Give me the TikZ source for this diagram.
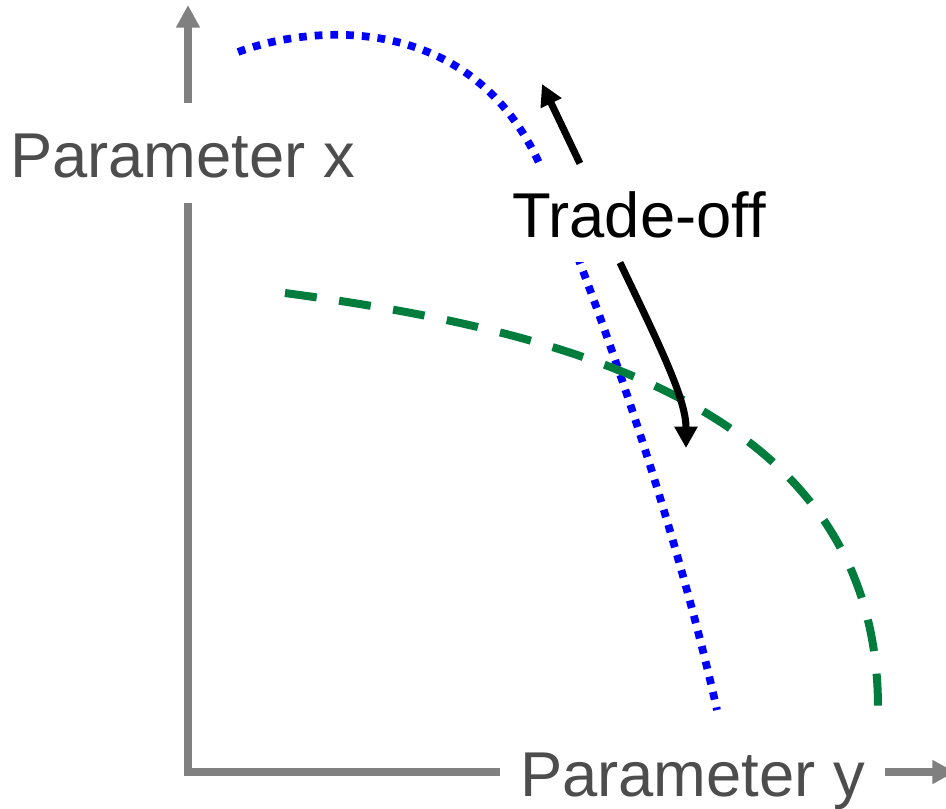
\documentclass[tikz,border=0pt]{standalone}
\usepackage{fontspec}
\setmainfont{Liberation Sans}
\usetikzlibrary{arrows.meta,positioning,calc}
\definecolor{axisgray}{RGB}{128,128,128}
\definecolor{labelgray}{RGB}{77,77,77}
\definecolor{frontblue}{RGB}{0,0,255}
\definecolor{frontgreen}{RGB}{0,125,60}

\begin{document}
\begin{tikzpicture}[x=0.75pt,y=0.75pt,yscale=-1,xscale=1,
  axisline/.style={color=axisgray,line width=6.5pt},
  axisarrow/.style={axisline,-{Triangle[length=17pt,width=17pt]}},
  paramlabel/.style={fill=white,inner xsep=15pt,inner ysep=15pt,text height=40pt,text depth=4pt,anchor=base,font=\fontsize{47.5}{57}\selectfont},
  bluefront/.style={color=frontblue,line width=5.8pt,dash pattern=on 5.8pt off 6pt},
  greenfront/.style={color=frontgreen,line width=6pt,dash pattern=on 24pt off 17pt},
  tradearrow/.style={black,line width=5.3pt,-{Triangle[length=16pt,width=16.5pt]}}]
  \useasboundingbox (0,0) rectangle (946,808);

  %Curves
  \draw [bluefront] (238,52) .. controls (310,25) and (470,10) .. (540,165) .. controls (582,258) and (670,500) .. (717,710) ;
  \draw [greenfront] (285,293) .. controls (560,330) and (878,405) .. (878,708) ;

  % Text Node
  \node [paramlabel,text=labelgray] (xlab) at (182.5,177) {Parameter x};
  % Text Node
  \node [paramlabel,text=labelgray] (ylab) at (692.5,796) {Parameter y};
  % Text Node
  \node [paramlabel,text=black] (trade) at (639,237) {Trade-off};

  %Axes
  \coordinate (corner) at (188,772);
  \coordinate (ytip) at (188,5);
  \coordinate (xtip) at (955,772);
  \draw [axisline,line join=miter] (corner |- xlab.south) -- (corner) -- (corner -| ylab.west) ;
  \draw [axisarrow] (corner |- xlab.north) -- (ytip) ;
  \draw [axisarrow] (corner -| ylab.east) -- (xtip) ;

  %Trade-off arrows
  \coordinate (uptip) at (542,84);
  \coordinate (downtip) at (686,448);
  \draw [tradearrow] (trade.140) -- (uptip) ;
  \draw [tradearrow] (trade.249) .. controls (662,350) and (686,400) .. (downtip) ;
\end{tikzpicture}
\end{document}
